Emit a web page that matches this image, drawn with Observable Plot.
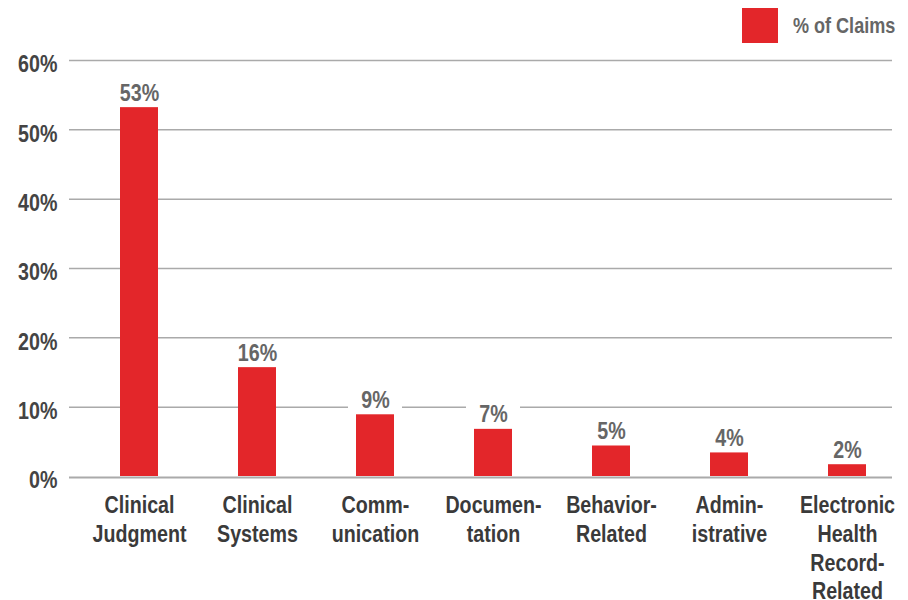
<!DOCTYPE html>
<html>
<head>
<meta charset="utf-8">
<script src="https://cdn.jsdelivr.net/npm/d3@7"></script>
<script src="https://cdn.jsdelivr.net/npm/@observablehq/plot@0.6"></script>
<style>
  html, body { margin: 0; padding: 0; background: #fff; }
  #wrap { position: relative; width: 908px; height: 600px; font-family: "Liberation Sans", Arial, sans-serif; font-weight: bold; }
  #legend { position: absolute; left: 742px; top: 8px; height: 35px; display: flex; align-items: center; }
  #legend .sw { width: 36px; height: 35px; background: #e3262a; flex: none; }
  #legend .lb { margin-left: 15px; font-size: 22px; color: #666; white-space: nowrap; transform: scaleX(0.82); transform-origin: left center; }
</style>
</head>
<body>
<div id="wrap">
  <div id="legend"><div class="sw"></div><div class="lb">% of Claims</div></div>
</div>
<script>
const categories = ["Clinical Judgment", "Clinical Systems", "Communication", "Documentation", "Behavior-Related", "Administrative", "Electronic Health Record-Related"];
const tickLabels = ["Clinical\nJudgment", "Clinical\nSystems", "Comm-\nunication", "Documen-\ntation", "Behavior-\nRelated", "Admin-\nistrative", "Electronic\nHealth\nRecord-\nRelated"];
const values = [53.2, 15.7, 8.9, 6.8, 4.4, 3.4, 1.7];
const valueLabels = ["53%", "16%", "9%", "7%", "5%", "4%", "2%"];
const yTicks = [0, 10, 20, 30, 40, 50, 60];

const data = categories.map((c, i) => ({cat: c, value: values[i], label: valueLabels[i]}));
const tickMap = new Map(categories.map((c, i) => [c, tickLabels[i]]));

const FONT = '"Liberation Sans", Arial, sans-serif';
const chart = Plot.plot({
  width: 908,
  height: 600,
  marginTop: 60,
  marginBottom: 124,
  marginLeft: 69,
  marginRight: 16,
  style: {fontFamily: FONT, fontWeight: "bold", background: "#fff"},
  x: {type: "band", domain: categories, range: [77.75, 907.25], paddingInner: 0.68, paddingOuter: 0.34, align: 0.5},
  y: {domain: [0, 60]},
  marks: [
    Plot.ruleY(yTicks.filter(d => d > 0), {stroke: "#aaa", strokeWidth: 1.5}),
    Plot.barY(data, {x: "cat", y1: "value", y2: "value", fill: "#fff", insetTop: -27, insetBottom: 1, insetLeft: -8, insetRight: -8}),
    Plot.barY(data, {x: "cat", y: "value", fill: "#e3262a"}),
    Plot.ruleY([0], {stroke: "#aaa", strokeWidth: 2, dy: 1}),
    Plot.text(data, {x: "cat", y: "value", text: "label", lineAnchor: "bottom", dy: -7, fontSize: 24, fill: "#666", fontWeight: "bold"}),
    Plot.axisY({ticks: yTicks, tickSize: 0, tickPadding: 12, tickFormat: d => d + "%", fontSize: 24, fill: "#444", dy: 4, label: null}),
    Plot.axisX({tickSize: 0, tickPadding: 16, tickFormat: d => tickMap.get(d), fontSize: 24, fill: "#3a3a3a", lineHeight: 1.2, label: null})
  ]
});
document.getElementById("wrap").prepend(chart);
chart.style.position = "absolute";
chart.style.left = "0";
chart.style.top = "0";

// condense glyphs horizontally (no condensed font installed)
const SX = 0.82;
chart.querySelectorAll("text").forEach(t => {
  const tr = t.getAttribute("transform");
  if (tr) {
    t.setAttribute("transform", tr + ` scale(${SX},1)`);
  } else {
    const x = +(t.getAttribute("x") || 0);
    t.setAttribute("transform", `translate(${x},0) scale(${SX},1) translate(${-x},0)`);
  }
});
</script>
</body>
</html>
